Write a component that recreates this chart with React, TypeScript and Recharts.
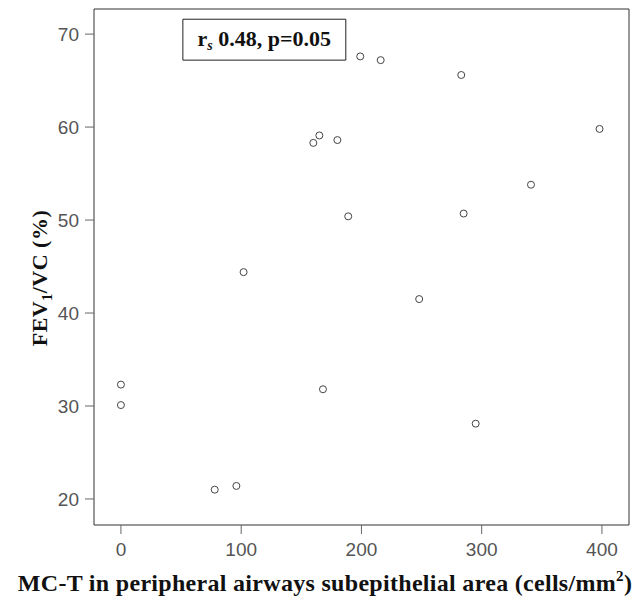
import {
  ScatterChart,
  Scatter,
  XAxis,
  YAxis,
  ReferenceArea,
} from "recharts";

const mcT = [0, 0, 78, 96, 102, 160, 165, 168, 180, 189, 199, 216, 248, 283, 285, 295, 341, 398];
const fevVc = [32.3, 30.1, 21.0, 21.4, 44.4, 58.3, 59.1, 31.8, 58.6, 50.4, 67.6, 67.2, 41.5, 65.6, 50.7, 28.1, 53.8, 59.8];
const xTicks = [0, 100, 200, 300, 400];
const yTicks = [20, 30, 40, 50, 60, 70];

const points = mcT.map((x, i) => ({ x, y: fevVc[i] }));

const serif = "'Liberation Serif', 'Times New Roman', serif";
const sans = "'Liberation Sans', Arial, sans-serif";

function OpenCircle(props: any) {
  const { cx, cy } = props;
  return <circle cx={cx} cy={cy} r={3.5} fill="#fff" stroke="#444" strokeWidth={1} />;
}

function YTitle(props: any) {
  const vb = props.viewBox;
  const cx = vb.x + 47;
  const cy = vb.y + vb.height / 2 + 11;
  return (
    <text
      x={cx}
      y={cy}
      transform={`rotate(-90 ${cx} ${cy})`}
      textAnchor="middle"
      fontFamily={serif}
      fontWeight="bold"
      fontSize={22}
      letterSpacing={0.5}
      fill="#111"
    >
      FEV
      <tspan fontSize={14} dy={5}>1</tspan>
      <tspan dy={-5}>/VC (%)</tspan>
    </text>
  );
}

function XTitle(props: any) {
  const vb = props.viewBox;
  return (
    <text
      x={325}
      y={vb.y + 66}
      textAnchor="middle"
      fontFamily={serif}
      fontWeight="bold"
      fontSize={24}
      letterSpacing={0.3}
      fill="#111"
    >
      MC-T in peripheral airways subepithelial area (cells/mm
      <tspan fontSize={15} dy={-10}>2</tspan>
      <tspan dy={10}>)</tspan>
    </text>
  );
}

function StatBox(props: any) {
  const vb = props.viewBox;
  const cx = vb.x + vb.width / 2;
  const cy = vb.y + vb.height / 2 + 6;
  return (
    <text x={cx} y={cy} textAnchor="middle" fontFamily={serif} fontWeight="bold" fontSize={22} fill="#111">
      r
      <tspan fontSize={14} fontStyle="italic" dy={4}>s</tspan>
      <tspan dy={-4}> 0.48, p=0.05</tspan>
    </text>
  );
}

export default function App() {
  return (
    <div style={{ position: "absolute", left: 0, top: 0, background: "#fff" }}>
      <ScatterChart width={638} height={600} margin={{ top: 0, right: 0, bottom: 0, left: 0 }}>
        <XAxis
          xAxisId="top"
          orientation="top"
          type="number"
          dataKey="x"
          domain={[-22.4, 422.5]}
          allowDataOverflow
          height={9}
          tick={false}
          tickLine={false}
          stroke="#333"
        />
        <YAxis
          yAxisId="right"
          orientation="right"
          type="number"
          dataKey="y"
          domain={[17.2, 72.7]}
          allowDataOverflow
          width={9}
          tick={false}
          tickLine={false}
          stroke="#333"
        />
        <XAxis
          type="number"
          dataKey="x"
          domain={[-22.4, 422.5]}
          allowDataOverflow
          ticks={xTicks}
          height={75}
          tickSize={9}
          tickMargin={9}
          stroke="#333"
          tickLine={{ stroke: "#666" }}
          tick={{ fill: "#555", fontFamily: sans, fontSize: 19 }}
          label={<XTitle />}
        />
        <YAxis
          type="number"
          dataKey="y"
          domain={[17.2, 72.7]}
          allowDataOverflow
          ticks={yTicks}
          width={94}
          tickSize={9}
          tickMargin={6}
          stroke="#333"
          tickLine={{ stroke: "#666" }}
          tick={{ fill: "#555", fontFamily: sans, fontSize: 19 }}
          label={<YTitle />}
        />
        <ReferenceArea
          x1={51.5}
          x2={187}
          y1={67.2}
          y2={71.6}
          fill="#fff"
          fillOpacity={1}
          stroke="#222"
          strokeWidth={1}
          label={<StatBox />}
        />
        <Scatter data={points} shape={<OpenCircle />} isAnimationActive={false} />
      </ScatterChart>
    </div>
  );
}
